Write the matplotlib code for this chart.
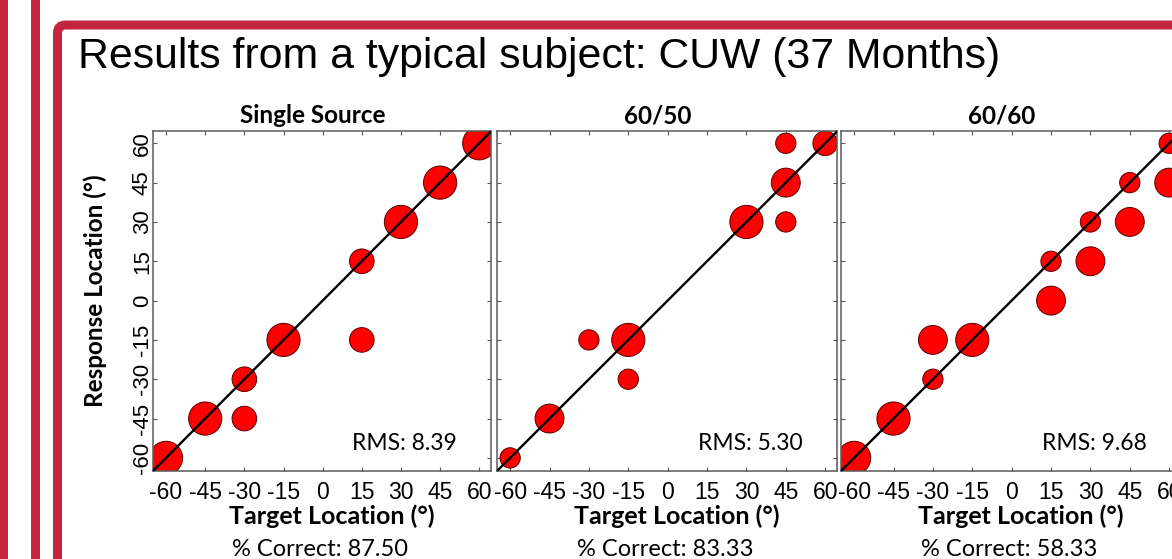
import matplotlib
matplotlib.use('Agg')
import matplotlib.pyplot as plt
from matplotlib.patches import Rectangle, FancyBboxPatch

# ---- data ----
panel_titles = ['Single Source', '60/50', '60/60']
rms_values = [8.39, 5.30, 9.68]
pct_correct = [87.50, 83.33, 58.33]
ticks = [-60, -45, -30, -15, 0, 15, 30, 45, 60]

# 单声源
ss_target = [-60, -45, -30, -30, -15, 15, 15, 30, 45, 60]
ss_response = [-60, -45, -30, -45, -15, 15, -15, 30, 45, 60]
ss_count = [4, 4, 2, 2, 4, 2, 2, 4, 4, 4]

# 60/50
s5_target = [-60, -45, -30, -15, -15, 30, 45, 45, 45, 60]
s5_response = [-60, -45, -15, -15, -30, 30, 60, 45, 30, 60]
s5_count = [1, 3, 1, 4, 1, 4, 1, 3, 1, 2]

# 60/60
s6_target = [-60, -45, -30, -30, -15, 15, 15, 30, 30, 45, 45, 60, 60]
s6_response = [-60, -45, -15, -30, -15, 15, 0, 30, 15, 45, 30, 60, 45]
s6_count = [4, 4, 3, 1, 4, 1, 3, 1, 3, 1, 3, 1, 3]

panels = [(ss_target, ss_response, ss_count),
          (s5_target, s5_response, s5_count),
          (s6_target, s6_response, s6_count)]

W, H = 1172, 559
RED = '#C5243F'
LIM = (-65, 64.5)


def fx(px):
    return px / W


def fy(py):
    return 1 - py / H


def count_to_area(n):
    # 圆半径(像素) 随次数增加
    r = 8.0 + 2.15 * n
    d_pt = 2 * r * 72 / 100
    return d_pt ** 2


fig = plt.figure(figsize=(W / 100, H / 100), dpi=100)
fig.patch.set_facecolor('white')

######## 幻灯片边框 ########
fig.patches.append(Rectangle((fx(0), 0), fx(8), 1, transform=fig.transFigure,
                             facecolor=RED, edgecolor='none', zorder=0))
fig.patches.append(Rectangle((fx(30.5), 0), fx(9), 1, transform=fig.transFigure,
                             facecolor=RED, edgecolor='none', zorder=0))
fig.patches.append(FancyBboxPatch((57.5, -200), 1400, H - 25 + 200,
                                  boxstyle='round,pad=0,rounding_size=8',
                                  transform=None, facecolor='none', edgecolor=RED,
                                  linewidth=9 * 72 / 100, zorder=0))

fig.text(fx(78), fy(68), 'Results from a typical subject: CUW (37 Months)',
         family='Liberation Sans', fontsize=30.8, va='baseline', ha='left')

######## 三个子图 ########
ax_left = [153, 497, 841]
ax_width = [338, 340, 340]
ax_top = 131.5
ax_bottom = 471

for i, (tgt, resp, cnt) in enumerate(panels):
    l = ax_left[i]
    w = ax_width[i]
    ax = fig.add_axes([fx(l), fy(ax_bottom), fx(w), (ax_bottom - ax_top) / H])
    ax.set_xlim(LIM)
    ax.set_ylim(LIM)

    ax.scatter(tgt, resp, s=[count_to_area(n) for n in cnt], c='#FF0000',
               edgecolors='#5a0000', linewidths=0.7, zorder=2)
    ax.plot(LIM, LIM, color='black', linewidth=1.7, zorder=3)

    ax.set_xticks(ticks)
    ax.set_xticklabels([str(t) for t in ticks], family='Liberation Sans', fontsize=16.5)
    ax.set_yticks(ticks)
    if i == 0:
        ax.set_yticklabels([str(t) for t in ticks], family='Liberation Sans', fontsize=16,
                           rotation=90, va='center')
    else:
        ax.set_yticklabels([])
    ax.tick_params(direction='in', length=3, width=0.8, color='#555555',
                   top=True, right=True)
    ax.tick_params(axis='x', pad=7.5)
    ax.tick_params(axis='y', pad=0)
    for sp in ax.spines.values():
        sp.set_color('#5a5a5a')
        sp.set_linewidth(1.1)

    cx = l + w / 2
    fig.text(fx(cx - 9), fy(123), panel_titles[i], family='Lato', weight='bold',
             fontsize=17.5, ha='center', va='baseline')
    fig.text(fx(cx + 10), fy(524), 'Target Location (°)', family='Lato', weight='bold',
             fontsize=18, ha='center', va='baseline')
    fig.text(fx(cx - 2), fy(556), f'% Correct: {pct_correct[i]:.2f}', family='Lato',
             fontsize=17, ha='center', va='baseline')
    fig.text(fx(l + w - 34), fy(450.5), f'RMS: {rms_values[i]:.2f}', family='Lato',
             fontsize=16.5, ha='right', va='baseline')

fig.text(fx(95), fy(291), 'Response Location (°)', family='Lato', weight='bold',
         fontsize=17.5, rotation=90, ha='center', va='center')

fig.savefig('out.png', dpi=100)
